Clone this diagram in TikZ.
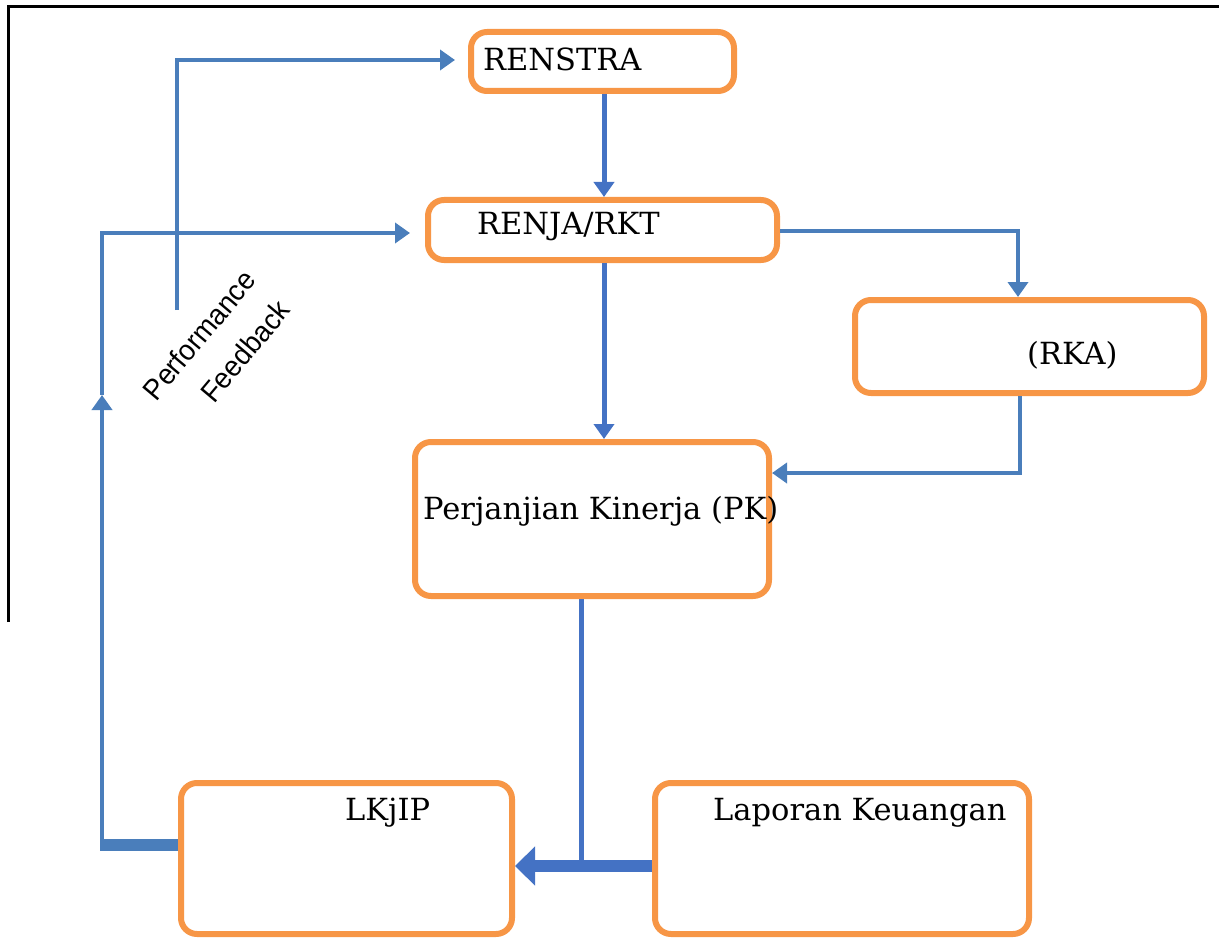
\documentclass[tikz,border=0pt]{standalone}
\usepackage{fontspec}
\setmainfont{DejaVu Serif}
\newfontfamily\pfont{Liberation Sans}
\usetikzlibrary{arrows.meta}
\definecolor{orng}{HTML}{F79646}
\definecolor{blueA}{HTML}{4472C4}
\definecolor{blueB}{HTML}{4A7EBB}
\tikzset{
  box/.style={draw=orng, line width=6pt, rounded corners=16pt, fill=white, inner sep=0pt},
  lbl/.style={anchor=base west, inner sep=0pt, font=\fontsize{30.5}{34}\selectfont},
  connA/.style={draw=blueA, line width=5pt},
  connB/.style={draw=blueB, line width=4pt},
  tipS/.style={-{Triangle[length=15pt,width=20pt]}},
  tipL/.style={-{Triangle[length=20pt,width=38pt]}},
  pf/.style={inner sep=0pt, font=\pfont\fontsize{29}{30}\selectfont, rotate=50, xscale=0.95},
}
\begin{document}
\begin{tikzpicture}[x=1pt,y=-1pt]
\useasboundingbox (0,0) rectangle (1219,939);
% frame
\draw[line width=3pt] (8,622) -- (8,7) -- (1219,7);
% boxes
\node[box, minimum width=263pt, minimum height=59pt] (renstra) at (602.5,61.5) {};
\node[box, minimum width=349pt, minimum height=60pt] (renja) at (602.5,230) {};
\node[box, minimum width=349pt, minimum height=93pt] (rka) at (1029.5,346.5) {};
\node[box, minimum width=354pt, minimum height=154pt] (pk) at (592,519) {};
\node[box, minimum width=331pt, minimum height=151pt] (lkjip) at (346.5,858.5) {};
\node[box, minimum width=374pt, minimum height=151pt] (lk) at (842,858.5) {};
% labels
\node[lbl] (renstra-t) at (483,71) {RENSTRA};
\node[lbl] (renja-t) at (477,234) {RENJA/RKT};
\node[lbl] (rka-t) at (1027,364) {(RKA)};
\node[lbl] (pk-t) at (423,519) {Perjanjian Kinerja (PK)};
\node[lbl] (lkjip-t) at (345,820) {LKjIP};
\node[lbl] (lk-t) at (713,820) {Laporan Keuangan};
% performance feedback text
\node[pf] (perf) at (199,335) {Performance};
\node[pf] (feed) at (245,351) {Feedback};
% coordinates
\coordinate (c1) at (1018,231);
\coordinate (c2) at (1020,473);
\coordinate (c3) at (581,866);
\coordinate (c4) at (102,845);
\coordinate (c5) at (102,395);
\coordinate (c6) at (102,233);
\coordinate (c7) at (177,310);
\coordinate (c8) at (177,60);
% connectors
\draw[connA, tipS] ([xshift=1.5pt]renstra.south) -- ([xshift=1.5pt]renstra.south |- renja.north);
\draw[connA, tipS] ([xshift=1.5pt]renja.south) -- ([xshift=1.5pt]renja.south |- pk.north);
\draw[connB, tipS] (renja.east |- c1) -- (c1) -- (c1 |- rka.north);
\draw[connB, tipS] (c2 |- rka.south) -- (c2) -- (c2 -| pk.east);
\draw[connA] ([xshift=-11pt]pk.south) -- (c3);
\draw[draw=blueA, line width=12pt, tipL] (lk.west |- c3) -- (lkjip.east |- c3);
\draw[draw=blueB, line width=12pt] (lkjip.west |- c4) -- ([xshift=-2pt]c4);
\draw[connB, tipS] ([yshift=6pt]c4) -- (c5);
\draw[connB, tipS] (c5) -- (c6) -- ([xshift=-15pt]renja.west |- c6);
\draw[connB, tipS] (c7) -- (c8) -- ([xshift=-13pt]renstra.west |- c8);
\end{tikzpicture}
\end{document}
